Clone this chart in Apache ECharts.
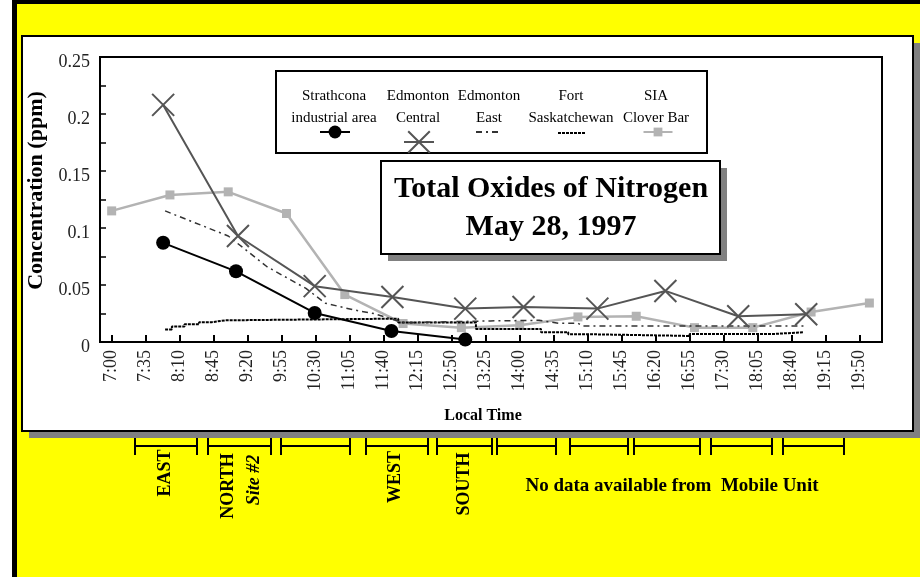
<!DOCTYPE html>
<html>
<head>
<meta charset="utf-8">
<script src="https://cdn.jsdelivr.net/npm/echarts@6/dist/echarts.min.js"></script>
<style>
body{margin:0;background:#fff;}
#chart{width:920px;height:577px;}
</style>
</head>
<body>
<div id="chart"></div>
<script>
// tick labels of the time axis
var timeLabels = ['7:00','7:35','8:10','8:45','9:20','9:55','10:30','11:05','11:40','12:15','12:50','13:25',
  '14:00','14:35','15:10','15:45','16:20','16:55','17:30','18:05','18:40','19:15','19:50'];

// Strathcona industrial area
var strathTimes  = ['7:53','9:08','10:29','11:48','13:04'];
var strathValues = [0.087,0.062,0.0255,0.0097,0.0021];

// Edmonton Central
var centralTimes  = ['7:53','9:10','10:29','11:49','13:04','14:04','15:20','16:30','17:45','18:55'];
var centralValues = [0.208,0.093,0.049,0.0395,0.0293,0.0307,0.0293,0.0448,0.0226,0.0243];

// Edmonton East
var eastTimes  = ['7:55','9:00','9:40','10:20','10:40','11:10','11:30','12:00','13:00','13:30','14:20','14:40','15:00','15:05','18:55'];
var eastValues = [0.115,0.093,0.066,0.047,0.034,0.028,0.025,0.017,0.018,0.0185,0.019,0.0165,0.0165,0.014,0.014];

// Fort Saskatchewan (stepped)
var fortTimes  = ['7:55','8:02','8:15','8:30','8:43','8:57','11:55','13:15','14:22','14:50','15:13','16:55','18:23','18:52'];
var fortValues = [0.011,0.0135,0.0156,0.0174,0.019,0.0205,0.017,0.0115,0.0086,0.0068,0.0053,0.0071,0.0086,0.0086];

// SIA Clover Bar
var siaTimes  = ['7:00','8:00','9:00','10:00','11:00','12:00','13:00','14:00','15:00','16:00','17:00','18:00','19:00','20:00'];
var siaValues = [0.115,0.129,0.1317,0.1127,0.0416,0.0162,0.0126,0.0147,0.022,0.0226,0.0126,0.0126,0.0263,0.0342];

var seriesNames = ['Strathcona industrial area','Edmonton Central','Edmonton East','Fort Saskatchewan','SIA Clover Bar'];
var legendLines = [['Strathcona','industrial area'],['Edmonton','Central'],['Edmonton','East'],['Fort','Saskatchewan'],['SIA','Clover Bar']];

// layout bits (not data)
var legendCx = [334, 418, 489, 571, 656];
var bracketSpans = [[135,197],[208,271],[281,350],[366,428],[437,492],[497,556],[570,628],[634,700],[711,772],[783,844]];
var siteLabels = [
  {t:'EAST', x:165, y:473, style:'bold'},
  {t:'NORTH', x:228, y:486, style:'bold'},
  {t:'Site #2', x:254, y:480, style:'italic bold'},
  {t:'WEST', x:395, y:477, style:'bold'},
  {t:'SOUTH', x:464, y:484, style:'bold'}
];

var serif = '"Liberation Serif","Times New Roman",serif';

function toMin(t){
  var p = t.split(':');
  return parseInt(p[0],10)*60 + parseInt(p[1],10) - 420;
}
function pairs(times, vals){
  var out = [];
  for(var i=0;i<times.length;i++){ out.push([toMin(times[i]), vals[i]]); }
  return out;
}
var tickMins = timeLabels.map(toMin);

var graphics = [
  {type:'rect', z:-20, shape:{x:12,y:0,width:5,height:577}, style:{fill:'#000'}},
  {type:'rect', z:-20, shape:{x:12,y:0,width:908,height:4}, style:{fill:'#000'}},
  {type:'rect', z:-20, shape:{x:17,y:4,width:903,height:573}, style:{fill:'#ffff00'}},
  {type:'rect', z:-19, shape:{x:29,y:43,width:891,height:395}, style:{fill:'#808080'}},
  {type:'rect', z:-18, shape:{x:22,y:36,width:891,height:395}, style:{fill:'#fff',stroke:'#000',lineWidth:2}},
  // legend box
  {type:'rect', z:3, shape:{x:276,y:71,width:431,height:82}, style:{fill:'#fff',stroke:'#000',lineWidth:2}},
  // title box
  {type:'rect', z:3, shape:{x:388,y:168,width:339,height:93}, style:{fill:'#808080'}},
  {type:'rect', z:3, shape:{x:381,y:161,width:339,height:93}, style:{fill:'#fff',stroke:'#000',lineWidth:2}},
  {type:'text', z:5, x:551, y:189, style:{text:'Total Oxides of Nitrogen', font:'bold 30px '+serif, fill:'#000', align:'center', verticalAlign:'middle'}},
  {type:'text', z:5, x:551, y:227, style:{text:'May 28, 1997', font:'bold 30px '+serif, fill:'#000', align:'center', verticalAlign:'middle'}},
  {type:'text', z:2, x:672, y:486, style:{text:'No data available from  Mobile Unit', font:'bold 19px '+serif, fill:'#000', align:'center', verticalAlign:'middle'}}
];
legendLines.forEach(function(l, i){
  graphics.push({type:'text', z:5, x:legendCx[i], y:96, style:{text:l[0], font:'15px '+serif, fill:'#000', align:'center', verticalAlign:'middle'}});
  graphics.push({type:'text', z:5, x:legendCx[i], y:118, style:{text:l[1], font:'15px '+serif, fill:'#000', align:'center', verticalAlign:'middle'}});
});
bracketSpans.forEach(function(s){
  graphics.push({type:'line', z:2, shape:{x1:s[0],y1:446,x2:s[1],y2:446}, style:{stroke:'#000',lineWidth:2}});
  graphics.push({type:'line', z:2, shape:{x1:s[0],y1:438,x2:s[0],y2:455}, style:{stroke:'#000',lineWidth:2}});
  graphics.push({type:'line', z:2, shape:{x1:s[1],y1:438,x2:s[1],y2:455}, style:{stroke:'#000',lineWidth:2}});
});
siteLabels.forEach(function(s){
  graphics.push({type:'text', z:2, x:s.x, y:s.y, rotation:Math.PI/2,
    style:{text:s.t, font:s.style+' 18px '+serif, fill:'#000', align:'center', verticalAlign:'middle'}});
});

function oneLegend(name, cx, cy, w, h, hideSymbol){
  var l = {
    data:[name], left:cx - w/2, top:cy - h/2, itemWidth:w, itemHeight:h,
    selectedMode:false, formatter:function(){return '';}, textStyle:{fontSize:1}, padding:0
  };
  if(hideSymbol){ l.itemStyle = {opacity:0}; }
  return l;
}

var xSymbol = 'path://M0,0L10,10M10,0L0,10';

var myChart = echarts.init(document.getElementById('chart'));
var option = {
  animation:false,
  graphic:{elements:graphics},
  legend:[
    oneLegend(seriesNames[0], 334, 132, 30, 16, false),
    oneLegend(seriesNames[1], 418, 142, 30, 27, false),
    oneLegend(seriesNames[2], 488, 132, 26, 10, true),
    oneLegend(seriesNames[3], 571, 133, 28, 10, true),
    oneLegend(seriesNames[4], 657, 132, 29, 11, false)
  ],
  grid:{left:100, right:38, top:57, bottom:235, show:true, borderColor:'#000', borderWidth:2, backgroundColor:'transparent'},
  xAxis:{
    type:'value', min:-12, max:793,
    name:'Local Time', nameLocation:'middle', nameGap:66,
    nameTextStyle:{fontFamily:serif, fontWeight:'bold', fontSize:16, color:'#000', padding:[0,16,0,0]},
    axisLine:{show:false, onZero:false},
    splitLine:{show:false},
    axisTick:{show:true, inside:true, length:7, customValues:tickMins, lineStyle:{color:'#000', width:2}},
    axisLabel:{rotate:90, customValues:tickMins, margin:8, fontFamily:serif, fontSize:18, color:'#222',
      formatter:function(v){ var k = tickMins.indexOf(v); return k >= 0 ? timeLabels[k] : ''; }}
  },
  yAxis:{
    type:'value', min:0, max:0.25, interval:0.05,
    name:'Concentration (ppm)', nameLocation:'middle', nameGap:46,
    nameTextStyle:{fontFamily:serif, fontWeight:'bold', fontSize:22, color:'#000', padding:[0,0,0,18]},
    axisLine:{show:false, onZero:false},
    splitLine:{show:false},
    axisTick:{show:true, inside:true, length:6, lineStyle:{color:'#000', width:1.5}},
    minorTick:{show:true, splitNumber:2, length:6, lineStyle:{color:'#000', width:1.5}},
    axisLabel:{margin:10, color:'#222',
      formatter:function(v){ return '{a|' + v + '}'; },
      rich:{a:{fontFamily:serif, fontSize:18, color:'#222', padding:[10,0,0,0]}}}
  },
  series:[
    {
      name:seriesNames[4], type:'line', data:pairs(siaTimes, siaValues),
      symbol:'rect', symbolSize:9, z:2,
      lineStyle:{color:'#b3b3b3', width:2.5}, itemStyle:{color:'#b3b3b3'}
    },
    {
      name:seriesNames[3], type:'line', data:pairs(fortTimes, fortValues), step:'end',
      symbol:'none', z:3,
      lineStyle:{color:'#000', width:2, type:[3,1]}, itemStyle:{color:'#000'}
    },
    {
      name:seriesNames[2], type:'line', data:pairs(eastTimes, eastValues),
      symbol:'none', z:3,
      lineStyle:{color:'#333', width:1.5, type:[6,4,2,4]}, itemStyle:{color:'#333'}
    },
    {
      name:seriesNames[1], type:'line', data:pairs(centralTimes, centralValues),
      symbol:xSymbol, symbolSize:22, z:4,
      lineStyle:{color:'#555', width:2}, itemStyle:{color:'#555', borderColor:'#555', borderWidth:2}
    },
    {
      name:seriesNames[0], type:'line', data:pairs(strathTimes, strathValues),
      symbol:'circle', symbolSize:14, z:5,
      lineStyle:{color:'#000', width:2}, itemStyle:{color:'#000'}
    }
  ]
};
myChart.setOption(option);
</script>
</body>
</html>
